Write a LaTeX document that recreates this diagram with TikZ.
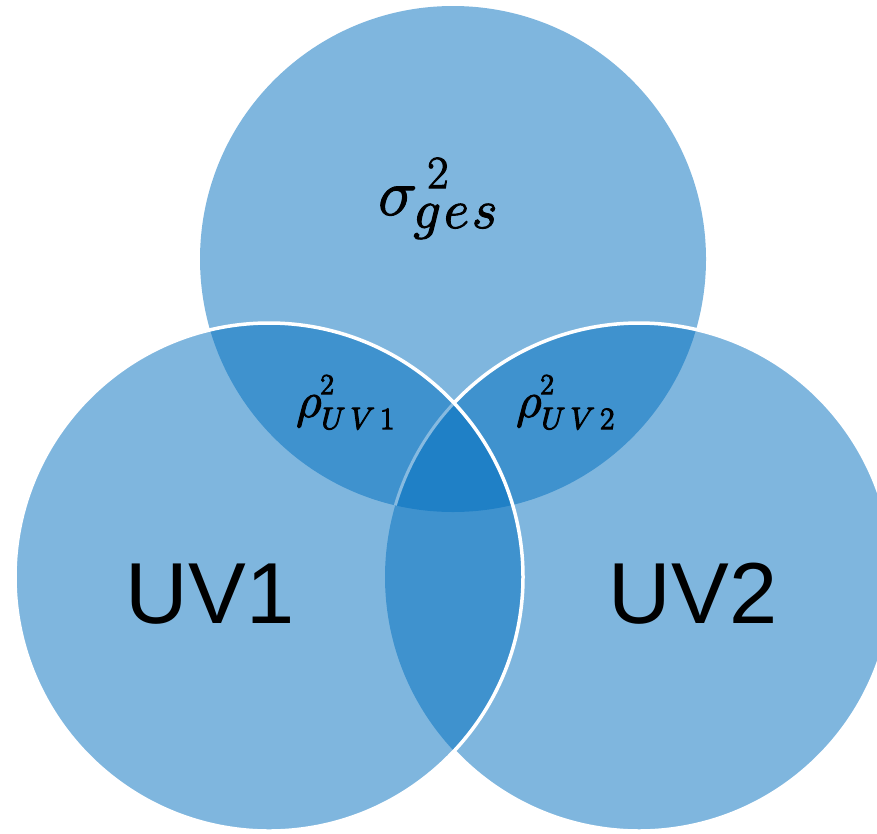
\documentclass[tikz,border=0pt]{standalone}
\usepackage{fix-cm}
\usepackage{fontspec}
\setsansfont{Liberation Sans}
\definecolor{setblue}{RGB}{0,110,190}
\definecolor{faintline}{RGB}{134,186,224}
% heavier glyphs: fill and stroke the outlines
\newcommand\heavytext[1]{\special{pdf:literal direct 2 Tr 1.1 w}#1\special{pdf:literal direct 0 Tr}}
\tikzset{
  setfill/.style={fill=setblue, fill opacity=0.5},
  rim/.style={draw=white, line width=3.5pt},
  biglabel/.style={font=\sffamily\fontsize{86.6}{90}\selectfont, inner sep=0pt, anchor=base},
  mathlabel/.style={inner sep=0pt, anchor=base west}
}
% symbol with hand-placed superscript and subscript
% #1 base size, #2 symbol, #3 sup size, #4 sup shift, #5 sup raise,
% #6 sub kern, #7 sub size, #8 sub lowering, #9 subscript
\newcommand\setsym[9]{%
  {\fontsize{#1}{#1}\selectfont$#2$}%
  \rlap{\kern#4\raisebox{#5}{\fontsize{#3}{#3}\selectfont$2$}}%
  \kern#6\raisebox{-#8}{\fontsize{#7}{#7}\selectfont$#9$}}
\begin{document}
\begin{tikzpicture}[x=1pt,y=-1pt]
  \useasboundingbox (0,0) rectangle (877,833);
  \clip (0,0) rectangle (877,833);
  % centres of the three sets
  \coordinate (ctop) at (453,259);
  \coordinate (cleft) at (269,577);
  \coordinate (cright) at (639,577);

  % translucent discs
  \fill[setfill] (ctop) circle[radius=253pt];
  \fill[setfill] (cright) circle[radius=254pt];
  \fill[setfill] (cleft) circle[radius=254pt];

  % faint trace of the right rim inside the central region
  \begin{scope}
    \clip (ctop) circle[radius=253pt];
    \draw[draw=faintline, line width=3pt] (cright) ++(136.8:254pt) arc[start angle=136.8, end angle=180, radius=254pt];
  \end{scope}

  % white rims
  \draw[rim] (cright) ++(-136.8:254pt) arc[start angle=-136.8, end angle=136.8, radius=254pt];
  \draw[rim] (cleft) circle[radius=254pt];

  % labels
  \node[mathlabel] (sig) at (378,215)
    {\heavytext{\setsym{66}{\sigma}{46}{10pt}{27pt}{-4pt}{55}{13pt}{g\mkern1mu e\mkern1mu s}}};
  \node[mathlabel] (rho1) at (296,417)
    {\heavytext{\setsym{50}{\rho}{29}{-1pt}{23pt}{0pt}{31}{12pt}{U\,V\,1}}};
  \node[mathlabel] (rho2) at (516,417)
    {\heavytext{\setsym{50}{\rho}{29}{-1pt}{23pt}{0pt}{31}{12pt}{U\,V\,2}}};
  \node[biglabel] (uv1) at (210,623) {UV1};
  \node[biglabel] (uv2) at (693,623) {UV2};
\end{tikzpicture}
\end{document}
